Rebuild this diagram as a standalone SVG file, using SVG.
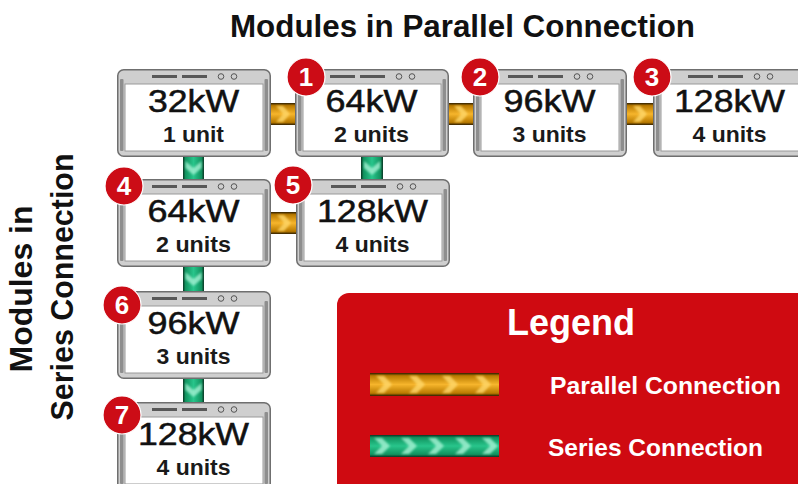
<svg xmlns="http://www.w3.org/2000/svg" xmlns:xlink="http://www.w3.org/1999/xlink" width="798" height="484" viewBox="0 0 798 484">
<style>
.ttl{font-family:"Liberation Sans",Arial,sans-serif;font-weight:bold;fill:#111;}
.big{font-family:"Liberation Sans",Arial,sans-serif;font-size:31px;fill:#111;stroke:#111;stroke-width:0.5px;text-anchor:middle;}
.sub{font-family:"Liberation Sans",Arial,sans-serif;font-size:22px;font-weight:bold;fill:#1a1a1a;text-anchor:middle;}
.bdg circle{fill:#cc0c16;stroke:#ffffff;stroke-width:1.2;}
.bdg text{font-family:"Liberation Sans",Arial,sans-serif;font-size:26px;font-weight:bold;fill:#fff;text-anchor:middle;}
.leg{font-family:"Liberation Sans",Arial,sans-serif;font-weight:bold;fill:#fff;}
.chO{fill:#ffd86a;opacity:0.8;filter:url(#soft);}
.chG{fill:#a6f2d4;opacity:0.8;filter:url(#soft);}
</style>
<defs>
<filter id="soft" x="-50%" y="-50%" width="200%" height="200%"><feGaussianBlur stdDeviation="0.9"/></filter>
<linearGradient id="gOh" x1="0" y1="0" x2="0" y2="1">
<stop offset="0" stop-color="#2e1e00"/><stop offset="0.12" stop-color="#b97a00"/><stop offset="0.5" stop-color="#f6b52c"/><stop offset="0.88" stop-color="#b97a00"/><stop offset="1" stop-color="#2e1e00"/>
</linearGradient>
<linearGradient id="gGv" x1="0" y1="0" x2="1" y2="0">
<stop offset="0" stop-color="#0a3523"/><stop offset="0.12" stop-color="#11935f"/><stop offset="0.5" stop-color="#28c58b"/><stop offset="0.88" stop-color="#11935f"/><stop offset="1" stop-color="#0a3523"/>
</linearGradient>
<linearGradient id="gGh" x1="0" y1="0" x2="0" y2="1">
<stop offset="0" stop-color="#0a3523"/><stop offset="0.12" stop-color="#11935f"/><stop offset="0.5" stop-color="#28c58b"/><stop offset="0.88" stop-color="#11935f"/><stop offset="1" stop-color="#0a3523"/>
</linearGradient>
<pattern id="pO" patternUnits="userSpaceOnUse" x="370" y="373" width="33" height="23">
<polygon class="chO" points="6,3 14,3 22,11.5 14,20 6,20 14,11.5"/>
</pattern>
<pattern id="pG" patternUnits="userSpaceOnUse" x="370" y="435" width="27" height="22">
<polygon class="chG" points="4,3 12,3 20,11 12,19 4,19 12,11"/>
</pattern>
<g id="frame">
<rect x="0.75" y="0.75" width="152.5" height="86.5" rx="6" fill="#cfcfcf" stroke="#6f6f6f" stroke-width="1.5"/>
<rect x="8" y="15" width="138" height="67" fill="#ffffff" stroke="#9a9a9a" stroke-width="1"/>
<rect x="3" y="10" width="3.5" height="72" rx="1" fill="#8e8e8e"/>
<rect x="147.5" y="10" width="3.5" height="72" rx="1" fill="#8e8e8e"/>
<rect x="35" y="6" width="25" height="3" fill="#585858"/>
<rect x="65" y="6" width="25" height="3" fill="#585858"/>
<circle cx="104" cy="7.5" r="2.8" fill="none" stroke="#555" stroke-width="1"/>
<circle cx="117" cy="7.5" r="2.8" fill="none" stroke="#555" stroke-width="1"/>
</g>
<polygon id="chevR" points="-7,-8 0,-8 7,0 0,8 -7,8 0,0"/>
<polygon id="chevD" points="-8,-7 -8,0 0,7 8,0 8,-7 0,0"/>
</defs>
<rect width="798" height="484" fill="#ffffff"/>

<text class="ttl" x="462.5" y="37" font-size="31" text-anchor="middle" textLength="465" lengthAdjust="spacingAndGlyphs">Modules in Parallel Connection</text>
<text class="ttl" font-size="31" text-anchor="middle" transform="translate(32,289) rotate(-90)" textLength="167" lengthAdjust="spacingAndGlyphs">Modules in</text>
<text class="ttl" font-size="31" text-anchor="middle" transform="translate(73,287) rotate(-90)" textLength="267" lengthAdjust="spacingAndGlyphs">Series Connection</text>

<g id="connectors">
<g id="c-A-B"><rect x="268" y="103" width="30" height="22" fill="url(#gOh)"/><use xlink:href="#chevR" class="chO" x="283" y="114"/></g>
<g id="c-B-C"><rect x="446" y="103" width="30" height="22" fill="url(#gOh)"/><use xlink:href="#chevR" class="chO" x="461" y="114"/></g>
<g id="c-C-D"><rect x="624" y="103" width="31" height="22" fill="url(#gOh)"/><use xlink:href="#chevR" class="chO" x="640" y="114"/></g>
<g id="c-E-F"><rect x="268" y="212" width="31" height="22" fill="url(#gOh)"/><use xlink:href="#chevR" class="chO" x="284" y="223"/></g>
<g id="c-A-E"><rect x="183" y="154" width="21" height="28" fill="url(#gGv)"/><use xlink:href="#chevD" class="chG" x="193.5" y="168"/></g>
<g id="c-B-F"><rect x="361" y="154" width="22" height="28" fill="url(#gGv)"/><use xlink:href="#chevD" class="chG" x="372" y="168"/></g>
<g id="c-E-G"><rect x="183" y="264" width="21" height="30" fill="url(#gGv)"/><use xlink:href="#chevD" class="chG" x="193.5" y="279"/></g>
<g id="c-G-H"><rect x="183" y="376" width="21" height="29" fill="url(#gGv)"/><use xlink:href="#chevD" class="chG" x="193.5" y="390"/></g>
</g>

<g id="m-A" transform="translate(117,69)"><use xlink:href="#frame"/><text class="big" x="76.5" y="43" textLength="91" lengthAdjust="spacingAndGlyphs">32kW</text><text class="sub" x="76.5" y="73" textLength="61" lengthAdjust="spacingAndGlyphs">1 unit</text></g>
<g id="m-B" transform="translate(295,69)"><use xlink:href="#frame"/><text class="big" x="76.5" y="43" textLength="92" lengthAdjust="spacingAndGlyphs">64kW</text><text class="sub" x="76.5" y="73" textLength="75" lengthAdjust="spacingAndGlyphs">2 units</text></g>
<g id="m-C" transform="translate(473,69)"><use xlink:href="#frame"/><text class="big" x="76.5" y="43" textLength="92" lengthAdjust="spacingAndGlyphs">96kW</text><text class="sub" x="76.5" y="73" textLength="74" lengthAdjust="spacingAndGlyphs">3 units</text></g>
<g id="m-D" transform="translate(653,69)"><use xlink:href="#frame"/><text class="big" x="76.5" y="43" textLength="111" lengthAdjust="spacingAndGlyphs">128kW</text><text class="sub" x="76.5" y="73" textLength="74" lengthAdjust="spacingAndGlyphs">4 units</text></g>
<g id="m-E" transform="translate(117,179)"><use xlink:href="#frame"/><text class="big" x="76.5" y="43" textLength="92" lengthAdjust="spacingAndGlyphs">64kW</text><text class="sub" x="76.5" y="73" textLength="75" lengthAdjust="spacingAndGlyphs">2 units</text></g>
<g id="m-F" transform="translate(296,179)"><use xlink:href="#frame"/><text class="big" x="76.5" y="43" textLength="111" lengthAdjust="spacingAndGlyphs">128kW</text><text class="sub" x="76.5" y="73" textLength="74" lengthAdjust="spacingAndGlyphs">4 units</text></g>
<g id="m-G" transform="translate(117,291)"><use xlink:href="#frame"/><text class="big" x="76.5" y="43" textLength="92" lengthAdjust="spacingAndGlyphs">96kW</text><text class="sub" x="76.5" y="73" textLength="74" lengthAdjust="spacingAndGlyphs">3 units</text></g>
<g id="m-H" transform="translate(117,402)"><use xlink:href="#frame"/><text class="big" x="76.5" y="43" textLength="111" lengthAdjust="spacingAndGlyphs">128kW</text><text class="sub" x="76.5" y="73" textLength="74" lengthAdjust="spacingAndGlyphs">4 units</text></g>

<g id="b1" class="bdg"><circle cx="306" cy="77" r="19"/><text x="306" y="86">1</text></g>
<g id="b2" class="bdg"><circle cx="480" cy="77" r="19"/><text x="480" y="86">2</text></g>
<g id="b3" class="bdg"><circle cx="652" cy="77" r="19"/><text x="652" y="86">3</text></g>
<g id="b4" class="bdg"><circle cx="124" cy="186" r="19"/><text x="124" y="195">4</text></g>
<g id="b5" class="bdg"><circle cx="293" cy="185" r="19"/><text x="293" y="194">5</text></g>
<g id="b6" class="bdg"><circle cx="122" cy="305" r="19"/><text x="122" y="314">6</text></g>
<g id="b7" class="bdg"><circle cx="122" cy="415" r="19"/><text x="122" y="424">7</text></g>

<g id="legend">
<rect x="337" y="293" width="490" height="230" rx="12" fill="#cf0a11"/>
<text class="leg" x="571" y="335" font-size="36" text-anchor="middle" textLength="128" lengthAdjust="spacingAndGlyphs">Legend</text>
<rect x="370" y="373" width="129" height="23" fill="url(#gOh)"/>
<rect x="370" y="373" width="129" height="23" fill="url(#pO)"/>
<text class="leg" x="550" y="394" font-size="24" textLength="231" lengthAdjust="spacingAndGlyphs">Parallel Connection</text>
<rect x="370" y="435" width="129" height="22" fill="url(#gGh)"/>
<rect x="370" y="435" width="129" height="22" fill="url(#pG)"/>
<text class="leg" x="548" y="456" font-size="24.5" textLength="215" lengthAdjust="spacingAndGlyphs">Series Connection</text>
</g>
</svg>
